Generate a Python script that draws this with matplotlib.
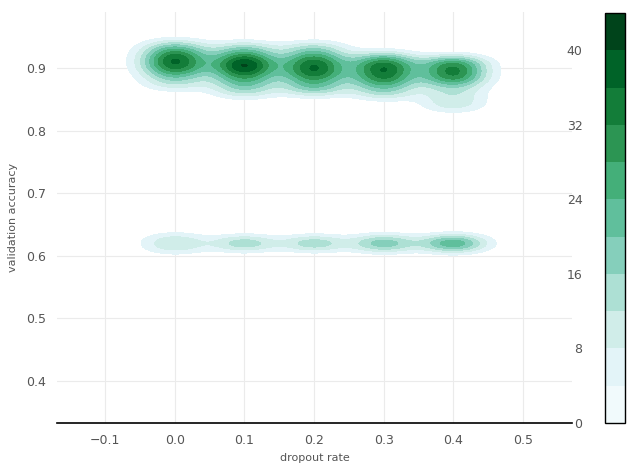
import numpy as np
import matplotlib
matplotlib.use("Agg")
import matplotlib.pyplot as plt
from matplotlib.colors import ListedColormap, BoundaryNorm
from matplotlib.cm import ScalarMappable

# validation accuracy of each run, grouped by dropout rate
dropout_rates = [0.0, 0.1, 0.2, 0.3, 0.4]
acc_good = [
    [0.912, 0.915, 0.909, 0.918, 0.906, 0.921, 0.903, 0.924, 0.900, 0.897, 0.928, 0.893, 0.933, 0.887, 0.881, 0.939, 0.872],
    [0.905, 0.907, 0.903, 0.910, 0.900, 0.913, 0.897, 0.916, 0.894, 0.919, 0.891, 0.887, 0.924, 0.883, 0.929, 0.878, 0.873, 0.867, 0.859, 0.935],
    [0.902, 0.906, 0.898, 0.908, 0.896, 0.911, 0.893, 0.914, 0.890, 0.887, 0.918, 0.883, 0.923, 0.877, 0.873, 0.929, 0.868, 0.862, 0.935],
    [0.897, 0.899, 0.901, 0.893, 0.905, 0.889, 0.908, 0.886, 0.911, 0.883, 0.880, 0.915, 0.876, 0.920, 0.870, 0.864, 0.857],
    [0.897, 0.901, 0.893, 0.904, 0.890, 0.907, 0.887, 0.910, 0.884, 0.913, 0.881, 0.875, 0.867, 0.857, 0.847, 0.838],
]
# runs that got stuck
acc_bad = [
    [0.612, 0.620, 0.628],
    [0.616, 0.620, 0.624],
    [0.616, 0.620, 0.624],
    [0.614, 0.618, 0.622, 0.626],
    [0.614, 0.617, 0.620, 0.623, 0.626],
]
cbar_ticks = [0, 8, 16, 24, 32, 40]

x = []
y = []
for d, good, bad in zip(dropout_rates, acc_good, acc_bad):
    for a in good + bad:
        x.append(d)
        y.append(a)
x = np.array(x)
y = np.array(y)

# gaussian kde on a grid
bw_x, bw_y = 0.033, 0.009
gx = np.linspace(-0.15, 0.55, 320)
gy = np.linspace(0.55, 1.0, 320)
xx, yy = np.meshgrid(gx, gy)
kx = np.exp(-0.5 * ((gx[:, None] - x[None, :]) / bw_x) ** 2)
ky = np.exp(-0.5 * ((gy[:, None] - y[None, :]) / bw_y) ** 2)
z = ky @ kx.T / (2 * np.pi * bw_x * bw_y * len(x))

levels = np.arange(0, 45, 4)
nb = len(levels) - 1
band_colors = [plt.cm.BuGn(0.04 + 0.96 * i / (nb - 1)) for i in range(nb)]

fig = plt.figure(figsize=(6.32, 4.63), dpi=100)
ax = fig.add_axes([0.0902, 0.0864, 0.8148, 0.888])
cax = fig.add_axes([0.957, 0.0864, 0.0316, 0.8855])

# lowest band is left unshaded
ax.contourf(xx, yy, z, levels=levels[1:], colors=band_colors[1:], extend="max")

ax.set_xlim(-0.169, 0.570)
ax.set_ylim(0.333, 0.990)
ax.set_xticks([-0.1, 0.0, 0.1, 0.2, 0.3, 0.4, 0.5])
ax.set_yticks([0.4, 0.5, 0.6, 0.7, 0.8, 0.9])
ax.grid(True, color="#ebebeb", linewidth=0.8)
ax.set_axisbelow(True)
for s in ["top", "right", "left"]:
    ax.spines[s].set_visible(False)
ax.spines["bottom"].set_color("black")
ax.spines["bottom"].set_linewidth(1.2)
ax.tick_params(length=0, labelsize=9, labelcolor="#555555", pad=8)
ax.set_xlabel("dropout rate", fontsize=8, color="#555555", labelpad=4)
ax.set_ylabel("validation accuracy", fontsize=8, color="#555555", labelpad=6)

sm = ScalarMappable(norm=BoundaryNorm(levels, nb), cmap=ListedColormap(band_colors))
cb = fig.colorbar(sm, cax=cax, ticks=cbar_ticks)
cb.outline.set_edgecolor("black")
cb.outline.set_linewidth(1)
cax.minorticks_off()
cax.yaxis.set_ticks_position("left")
cax.tick_params(which="both", length=0, labelsize=9, labelcolor="#555555", pad=16)

fig.savefig("out.png", dpi=100)
